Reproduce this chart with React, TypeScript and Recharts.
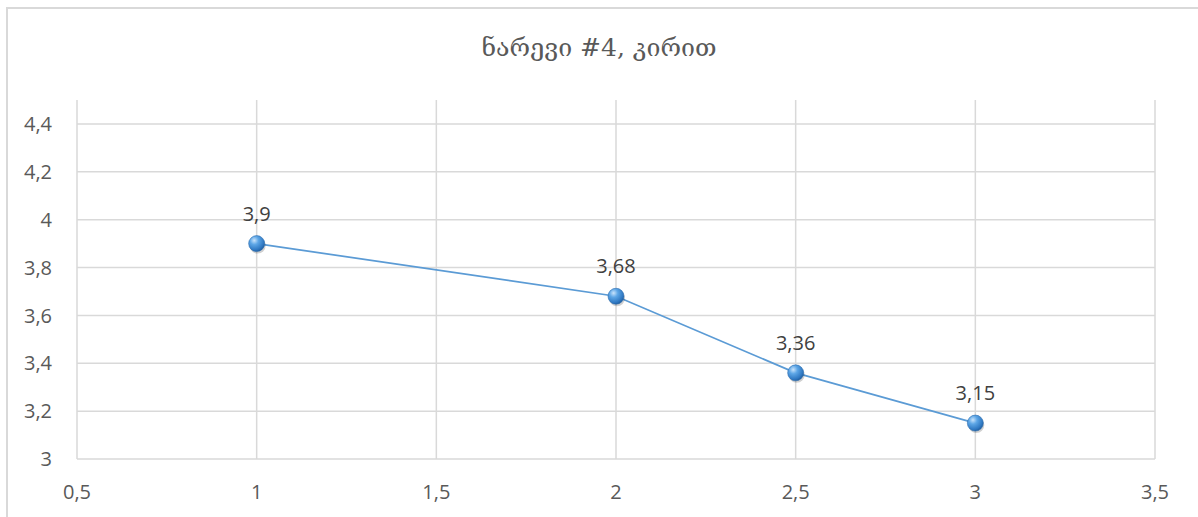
import React from "react";
import {
  LineChart,
  Line,
  XAxis,
  YAxis,
  CartesianGrid,
  ReferenceLine,
  LabelList,
} from "recharts";

const xValues = [1, 2, 2.5, 3];
const yValues = [3.9, 3.68, 3.36, 3.15];
const xTicks = [0.5, 1, 1.5, 2, 2.5, 3, 3.5];
const yTicks = [3, 3.2, 3.4, 3.6, 3.8, 4, 4.2, 4.4];

const TITLE = "ნარევი #4, კირით";
const FONT = "'Open Sans', 'DejaVu Sans', sans-serif";
const GRID = "#d9d9d9";

const data = xValues.map((x, i) => ({ x, y: yValues[i] }));

const comma = (v: number) => String(v).replace(".", ",");

function BallDot(props: any) {
  const { cx, cy, index } = props;
  if (cx == null || cy == null) return null;
  return (
    <g key={`dot-${index}`}>
      <circle cx={cx + 1} cy={cy + 2} r={8} fill="#000" opacity={0.18} />
      <circle cx={cx} cy={cy} r={8} fill="url(#ballFill)" stroke="#2f6fb0" strokeWidth={0.6} />
    </g>
  );
}

export default function App() {
  return (
    <div style={{ position: "absolute", left: 0, top: 0, width: 1198, height: 517, overflow: "hidden", background: "#fff" }}>
      <div
        style={{
          position: "absolute",
          left: 6,
          top: 7,
          width: 1300,
          height: 600,
          borderLeft: `2px solid ${GRID}`,
          borderTop: `2px solid ${GRID}`,
        }}
      />
      <div
        style={{
          position: "absolute",
          left: 0,
          top: 33,
          width: 1198,
          textAlign: "center",
          fontFamily: "'DejaVu Serif', 'DejaVu Sans', serif",
          fontSize: 25,
          color: "#595959",
        }}
      >
        {TITLE}
      </div>
      <div style={{ position: "absolute", left: 0, top: 0 }}>
        <LineChart
          width={1198}
          height={517}
          data={data}
          margin={{ top: 100, right: 43, bottom: 28, left: 17 }}
        >
          <defs>
            <radialGradient id="ballFill" cx="35%" cy="30%" r="75%">
              <stop offset="0%" stopColor="#c9e3fb" />
              <stop offset="35%" stopColor="#5da6e6" />
              <stop offset="80%" stopColor="#2f78c2" />
              <stop offset="100%" stopColor="#1f5a99" />
            </radialGradient>
          </defs>
          {/* vertical grid only; horizontal lines sit at the y ticks, not at the 4.5 top */}
          <CartesianGrid stroke={GRID} strokeWidth={1.5} horizontal={false} />
          {yTicks.map((t) => (
            <ReferenceLine key={t} y={t} stroke={GRID} strokeWidth={1.5} />
          ))}
          <XAxis
            dataKey="x"
            type="number"
            domain={[0.5, 3.5]}
            ticks={xTicks}
            tickFormatter={comma}
            axisLine={false}
            tickLine={false}
            tickMargin={20}
            height={30}
            tick={{ fontSize: 20, fill: "#595959", fontFamily: FONT }}
            interval={0}
          />
          <YAxis
            type="number"
            domain={[3, 4.5]}
            ticks={yTicks}
            tickFormatter={comma}
            axisLine={false}
            tickLine={false}
            tickMargin={19}
            width={60}
            tick={{ fontSize: 20, fill: "#595959", fontFamily: FONT }}
            interval={0}
          />
          <Line
            dataKey="y"
            type="linear"
            stroke="#5b9bd5"
            strokeWidth={1.75}
            dot={<BallDot />}
            activeDot={false}
            isAnimationActive={false}
          >
            <LabelList
              dataKey="y"
              position="top"
              offset={23}
              formatter={(v: any) => comma(v)}
              style={{ fontSize: 20, fill: "#404040", fontFamily: FONT }}
            />
          </Line>
        </LineChart>
      </div>
    </div>
  );
}
